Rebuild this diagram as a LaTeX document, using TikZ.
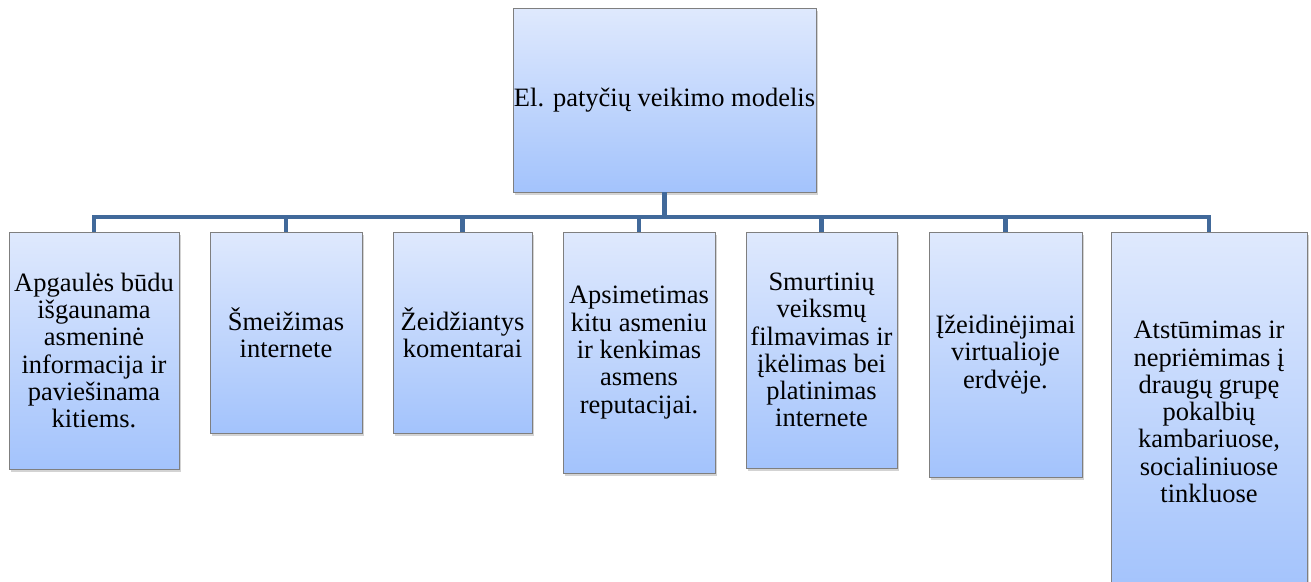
\documentclass[tikz,border=0pt]{standalone}
\usepackage{fontspec}
\setmainfont{Liberation Serif}
\usetikzlibrary{shadows}
\definecolor{boxtop}{HTML}{DFE9FD}
\definecolor{boxbot}{HTML}{A3C3FC}
\definecolor{boxline}{HTML}{7F7F7F}
\definecolor{linkblue}{HTML}{41699A}
\begin{document}
\begin{tikzpicture}[x=1pt,y=-1pt,link/.style={draw=linkblue,line width=4.5pt},
    every node/.style={font=\rmfamily\fontsize{26.5}{27.3}\selectfont}]
    \tikzstyle{item}=[rectangle,draw=boxline,line width=0.8pt,top color=boxtop,bottom color=boxbot,
        align=center,inner sep=0pt,drop shadow={shadow xshift=1.5pt,shadow yshift=-3pt,opacity=0.35}]
    \useasboundingbox (0,0) rectangle (1311,581);

    \node[item,minimum width=303pt,minimum height=184pt] (model) at (664.5,100) {El. patyčių veikimo modelis};

    \node[item,minimum width=170pt,minimum height=237pt] (apgaule) at (94,350.5)
        {Apgaulės būdu\\išgaunama\\asmeninė\\informacija ir\\paviešinama\\kitiems.};
    \node[item,minimum width=152pt,minimum height=201pt] (smeizimas) at (286,332.5)
        {Šmeižimas\\internete};
    \node[item,minimum width=139pt,minimum height=201pt] (komentarai) at (462.5,332.5)
        {Žeidžiantys\\komentarai};
    \node[item,minimum width=152pt,minimum height=241pt] (apsimetimas) at (639,352.5)
        {Apsimetimas\\kitu asmeniu\\ir kenkimas\\asmens\\reputacijai.};
    \node[item,minimum width=151pt,minimum height=236pt] (smurtas) at (821.5,350)
        {Smurtinių\\veiksmų\\filmavimas ir\\įkėlimas bei\\platinimas\\internete};
    \node[item,minimum width=153pt,minimum height=245pt] (izeidimai) at (1005.5,354.5)
        {Įžeidinėjimai\\virtualioje\\erdvėje.};
    \node[item,minimum width=196pt,minimum height=360pt] (atstumimas) at (1209,412)
        {Atstūmimas ir\\nepriėmimas į\\draugų grupę\\pokalbių\\kambariuose,\\socialiniuose\\tinkluose};

    \coordinate (bar) at (664.5,217);
    \draw[link] (model.south) -- (bar);
    \draw[link] (apgaule.north) |- (bar);
    \draw[link] (smeizimas.north) |- (bar);
    \draw[link] (komentarai.north) |- (bar);
    \draw[link] (apsimetimas.north) |- (bar);
    \draw[link] (smurtas.north) |- (bar);
    \draw[link] (izeidimai.north) |- (bar);
    \draw[link] (atstumimas.north) |- (bar);
\end{tikzpicture}
\end{document}
